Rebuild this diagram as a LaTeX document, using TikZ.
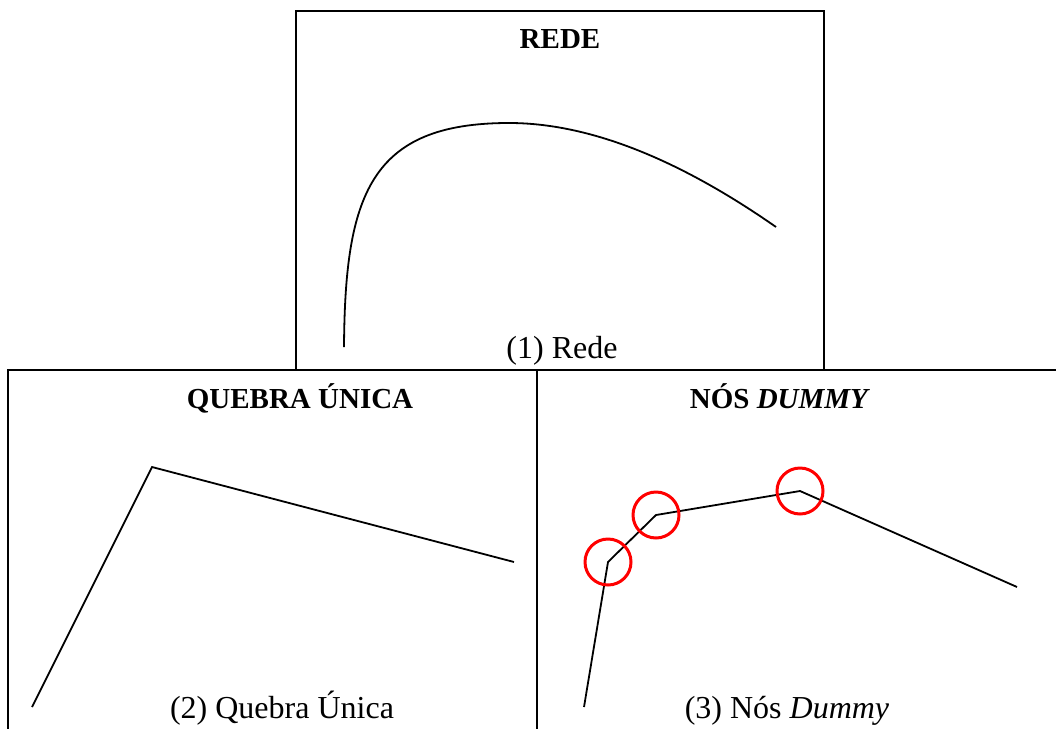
\documentclass[tikz,border=0pt]{standalone}
\usepackage{fontspec}
\setmainfont{Liberation Serif}
\begin{document}
\begin{tikzpicture}[x=1pt,y=-1pt,
  frame/.style={line width=2pt,line cap=rect},
  curve/.style={line width=1.8pt},
  marker/.style={draw=red,line width=3pt,circle,minimum size=46pt,inner sep=0pt},
  heading/.style={anchor=base,font=\fontsize{29}{34}\selectfont\bfseries},
  caption/.style={anchor=base,font=\fontsize{32}{38}\selectfont}]
\useasboundingbox (0,0) rectangle (1056,728);

% panel frames
\draw[frame] (296,370) -- (296,11) -- (824,11) -- (824,370);
\draw[frame] (8,728) -- (8,370) -- (1060,370);
\draw[frame] (537,370) -- (537,728);

% panel 1: smooth network curve
\node[heading] (t1) at (560,48) {REDE};
\node[caption] (c1) at (562,358) {(1) Rede};
\coordinate (r0) at (344,347);
\coordinate (r1) at (509,123);
\coordinate (r2) at (776,227);
\draw[curve] (r0) .. controls (345,195) and (370,123) .. (r1)
                  .. controls (590,123) and (680,160) .. (r2);

% panel 2: single break
\node[heading] (t2) at (300,408) {QUEBRA ÚNICA};
\node[caption] (c2) at (282,718) {(2) Quebra Única};
\coordinate (q0) at (32,707);
\coordinate (q1) at (152,467);
\coordinate (q2) at (514,562);
\draw[curve,line join=miter] (q0) -- (q1) -- (q2);

% panel 3: dummy nodes
\node[heading] (t3) at (780,408) {NÓS \textit{DUMMY}};
\node[caption] (c3) at (787,718) {(3) Nós \textit{Dummy}};
\coordinate (d0) at (584,707);
\coordinate (d1) at (608,562);
\coordinate (d2) at (656,515);
\coordinate (d3) at (800,491);
\coordinate (d4) at (1017,587);
\draw[curve] (d0) -- (d1) -- (d2) -- (d3) -- (d4);
\node[marker] (m1) at (d1) {};
\node[marker] (m2) at (d2) {};
\node[marker] (m3) at (d3) {};
\end{tikzpicture}
\end{document}
